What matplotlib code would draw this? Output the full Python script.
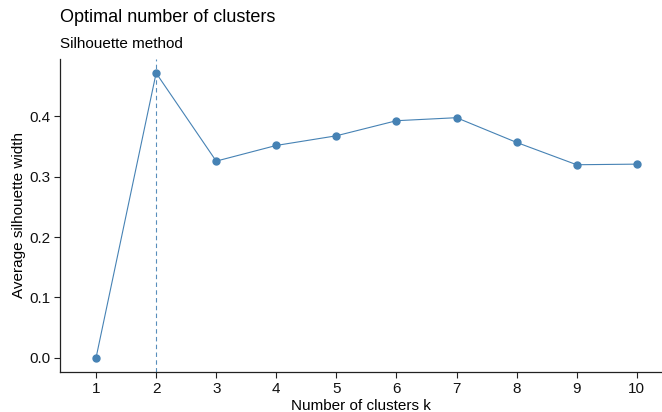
import matplotlib.pyplot as plt
import numpy as np

# --- Data ---
k_values = [1, 2, 3, 4, 5, 6, 7, 8, 9, 10]
silhouette = [0.0, 0.472, 0.326, 0.352, 0.368, 0.393, 0.398, 0.357, 0.320, 0.321]
best_k = 2

plt.rcParams['font.family'] = ['Liberation Sans', 'DejaVu Sans']
color = '#4682B4'

fig = plt.figure(figsize=(6.62, 4.12), dpi=100)
ax = fig.add_axes([60 / 662, 40 / 412, 602 / 662, 313 / 412])

ax.plot(k_values, silhouette, color=color, linewidth=0.8, marker='o',
        markersize=5, zorder=3)
ax.axvline(best_k, color=color, linestyle=(0, (4, 3)), linewidth=0.8, alpha=0.9)

ax.set_xlim(0.4, 10.42)
ax.set_ylim(-0.0236, 0.4953)
ax.set_xticks(k_values)
ax.set_yticks([0.0, 0.1, 0.2, 0.3, 0.4])
ax.set_yticklabels(['0.0', '0.1', '0.2', '0.3', '0.4'])

for side in ['top', 'right']:
    ax.spines[side].set_visible(False)
for side in ['left', 'bottom']:
    ax.spines[side].set_linewidth(0.9)
    ax.spines[side].set_color('#222222')
ax.tick_params(axis='both', length=4, width=0.8, color='#222222',
               labelsize=11, labelcolor='#111111', pad=3)

ax.set_xlabel('Number of clusters k', fontsize=11, labelpad=2)
ax.set_ylabel('Average silhouette width', fontsize=11, labelpad=2)

fig.text(60 / 662, 1 - 18 / 412, 'Optimal number of clusters', fontsize=13,
         va='center', ha='left')
fig.text(60 / 662, 1 - 44 / 412, 'Silhouette method', fontsize=11,
         va='center', ha='left')

fig.savefig('out.png', dpi=100)
